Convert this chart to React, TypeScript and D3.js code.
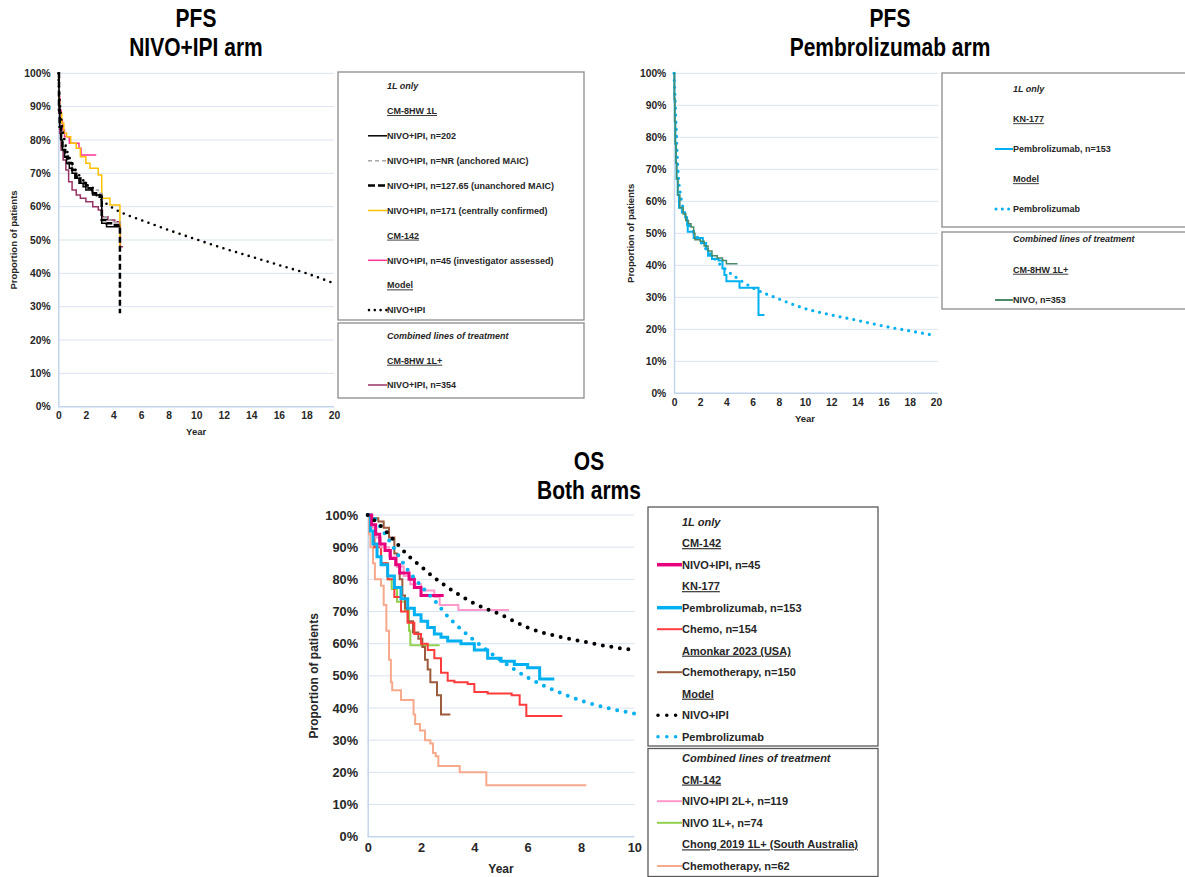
import React, { useEffect, useRef } from 'react';
import * as d3 from 'd3';

type Pt = [number, number];

// ---------- PFS, NIVO+IPI arm (years, % progression-free) ----------
const pfsNivoIpi202: Pt[] = [[0, 100], [0.05, 90], [0.1, 84], [0.2, 80], [0.3, 77], [0.45, 75], [0.6, 73], [0.8, 71.5], [1.0, 70], [1.2, 68.5], [1.5, 67], [1.8, 66], [2.0, 65], [2.5, 63.5], [3.15, 55], [3.5, 54], [4.5, 54]];
const pfsNivoIpiAnchored: Pt[] = [[0, 100], [0.05, 90], [0.1, 85], [0.2, 81], [0.3, 78], [0.5, 75.5], [0.7, 73.5], [1.0, 71], [1.3, 69], [1.6, 67.5], [2.0, 66], [2.5, 65], [2.9, 64], [3.15, 57], [3.5, 56], [4.0, 55.5], [4.5, 55]];
const pfsNivoIpiUnanchored: Pt[] = [[0, 100], [0.05, 89], [0.1, 84], [0.2, 80], [0.3, 77], [0.5, 75], [0.7, 73], [1.0, 71], [1.3, 69], [1.6, 67], [2.0, 65.5], [2.5, 64], [3.0, 63], [3.15, 56], [3.5, 55], [4.0, 54.5], [4.47, 28]];
const pfsNivoIpiCentral: Pt[] = [[0, 100], [0.05, 92], [0.1, 88], [0.25, 85], [0.4, 82], [0.6, 81], [0.9, 79], [1.3, 77.5], [1.6, 75], [2.0, 73], [2.3, 71.5], [2.9, 69.5], [3.15, 62.5], [3.75, 60.5], [4.47, 48], [4.55, 48]];
const pfsCm142Investigator: Pt[] = [[0, 100], [0.05, 93], [0.1, 89], [0.2, 86], [0.3, 83], [0.45, 81], [0.8, 79], [1.5, 77.5], [1.65, 75.5], [2.75, 75.5]];
const pfsNivoIpi354: Pt[] = [[0, 100], [0.05, 88], [0.1, 82], [0.2, 77], [0.35, 74], [0.55, 71], [0.75, 67.5], [1.0, 65], [1.3, 63.5], [1.6, 62.5], [2.0, 61.5], [2.5, 60], [2.9, 59], [3.2, 57], [3.6, 56], [4.1, 55.5], [4.45, 55], [4.5, 48], [4.7, 48]];
const pfsModelNivoIpi: Pt[] = [[0, 100], [0.1, 92], [0.25, 85], [0.5, 79], [1, 73], [1.5, 69.5], [2, 67], [3, 62.5], [4, 59.5], [5, 57.5], [6, 56], [8, 53], [10, 50.2], [12, 47.5], [14, 45], [16, 42.5], [18, 40], [20, 37]];

// ---------- PFS, Pembrolizumab arm ----------
const pfsPembro153: Pt[] = [[0, 100], [0.03, 92], [0.06, 85], [0.1, 78], [0.15, 72], [0.2, 67], [0.28, 62], [0.38, 58], [0.6, 56.5], [0.85, 55], [1.0, 52.5], [1.05, 50.5], [1.4, 50.5], [1.5, 48.5], [2.1, 48.5], [2.2, 47], [2.45, 45], [2.6, 43], [2.9, 42], [3.4, 41.5], [3.7, 39], [3.85, 37], [4.0, 35], [4.8, 35], [5.0, 33], [6.45, 24.5], [6.9, 24.5]];
const pfsNivo353: Pt[] = [[0, 100], [0.03, 92], [0.06, 85], [0.1, 78], [0.15, 72], [0.2, 67], [0.3, 62], [0.45, 58], [0.7, 56], [0.9, 54], [1.1, 53], [1.3, 52], [1.5, 50], [1.6, 48], [2.0, 47.5], [2.3, 46], [2.6, 44.5], [2.9, 43], [3.3, 42.3], [3.7, 41.5], [4.0, 40.5], [4.85, 40.5]];
const pfsModelPembro: Pt[] = [[0, 100], [0.05, 95], [0.1, 90], [0.2, 79], [0.25, 74], [0.35, 67], [0.5, 62], [0.75, 57], [1, 54], [1.5, 50.5], [2, 47.5], [3, 42.5], [4, 38.5], [5, 35.5], [6, 33], [8, 29.5], [10, 26.5], [12, 24.5], [14, 22.8], [16, 21], [18, 19.5], [20, 18]];

// ---------- OS, both arms ----------
const osCm142NivoIpi45: Pt[] = [[0, 100], [0.15, 97], [0.3, 94], [0.45, 91], [0.65, 89], [0.85, 86.5], [1.05, 84.5], [1.2, 82], [1.55, 80], [1.75, 77.5], [2.0, 75], [2.85, 75]];
const osKn177Pembro153: Pt[] = [[0, 100], [0.1, 95], [0.2, 91], [0.35, 87], [0.5, 84.5], [0.75, 81], [1.0, 77.5], [1.25, 74], [1.5, 71], [1.75, 69], [2.0, 67], [2.25, 65], [2.5, 63], [2.75, 62], [3.0, 60.8], [3.5, 60], [4.0, 58], [4.5, 55.5], [5.0, 54.5], [5.5, 53.5], [6.0, 52.5], [6.45, 49], [7.0, 49]];
const osKn177Chemo154: Pt[] = [[0, 100], [0.1, 95], [0.25, 90], [0.5, 85], [0.75, 80], [1.0, 74.5], [1.25, 70], [1.5, 66.5], [1.75, 63], [2.0, 60], [2.25, 58], [2.5, 55.5], [2.75, 51], [3.0, 48.5], [3.25, 48], [3.75, 47.5], [4.0, 45], [4.5, 44.5], [5.4, 44], [5.7, 41], [5.95, 37.5], [7.3, 37.5]];
const osAmonkarChemo150: Pt[] = [[0, 100], [0.15, 99], [0.4, 98], [0.6, 96], [0.8, 93], [1.0, 88], [1.1, 84], [1.2, 80], [1.3, 75], [1.4, 71], [1.5, 67], [1.7, 63.5], [1.9, 61.5], [2.05, 59], [2.15, 55], [2.25, 52], [2.35, 48], [2.6, 44], [2.75, 38], [3.1, 38]];
const osModelNivoIpi: Pt[] = [[0, 100], [0.5, 96.5], [1, 92], [1.5, 87.5], [2, 84], [2.5, 80.5], [3, 77.5], [4, 72.5], [5, 69], [6, 65], [7, 62.5], [8, 60.8], [9, 59.2], [10, 58]];
const osModelPembro: Pt[] = [[0, 100], [0.25, 99], [0.5, 96], [1, 89.5], [1.5, 83], [2, 78], [2.5, 73.5], [3, 68.5], [3.5, 64.5], [4, 61], [5, 54.8], [6, 49.5], [7, 45.5], [8, 42.3], [9, 40], [10, 38.3]];
const osCm142NivoIpi2L119: Pt[] = [[0, 100], [0.15, 96], [0.3, 93], [0.5, 90], [0.8, 87], [1.1, 84], [1.35, 81], [1.6, 78.5], [2.0, 76.5], [2.5, 74.5], [2.7, 72], [3.4, 70.5], [5.3, 70.5]];
const osCm142Nivo1L74: Pt[] = [[0, 100], [0.1, 95], [0.25, 90], [0.5, 85], [0.75, 80], [0.9, 77], [1.1, 73], [1.4, 70.5], [1.55, 64], [1.6, 59.5], [2.7, 59.5]];
const osChongChemo62: Pt[] = [[0, 100], [0.05, 94], [0.1, 90], [0.2, 85], [0.27, 80], [0.5, 78], [0.6, 72], [0.7, 64], [0.8, 55], [0.87, 48], [0.92, 45.5], [1.25, 42.5], [1.72, 38], [1.78, 35], [1.96, 33], [2.15, 30], [2.35, 29], [2.45, 26], [2.55, 25], [2.65, 22], [3.45, 20], [4.45, 16], [8.2, 16]];

const yTicks = d3.range(0, 101, 10);
const xTicks20 = d3.range(0, 21, 2);
const xTicks10 = d3.range(0, 11, 2);

const FONT = "'Liberation Sans', Arial, sans-serif";
const TEXT = '#262626';
const GRID = '#d9e3f1';
const AXIS = '#c3d5ec';

type Series = { data: Pt[]; color: string; width: number; dash?: string; kind: 'step' | 'model' };
type LegendItem = { kind: 'italic' | 'head' | 'line'; text: string; color?: string; width?: number; dash?: string };

const App = () => {
  const ref = useRef<SVGSVGElement | null>(null);

  useEffect(() => {
    const svg = d3.select(ref.current);
    svg.selectAll('*').remove();

    const drawPanel = (p: any) => {
      const x = d3.scaleLinear().domain([0, p.xMax]).range([p.left, p.right]);
      const y = d3.scaleLinear().domain([0, 100]).range([p.bottom, p.top]);
      const g = svg.append('g');

      // gridlines
      g.selectAll('line.grid').data(yTicks.slice(1)).enter().append('line')
        .attr('x1', p.left).attr('x2', p.gridRight)
        .attr('y1', d => y(d)).attr('y2', d => y(d))
        .attr('stroke', GRID).attr('stroke-width', 1);

      const yAxis = g.append('g').attr('transform', `translate(${p.left},0)`)
        .call(d3.axisLeft(y).tickValues(yTicks).tickFormat(d => `${d}%`).tickSize(0).tickPadding(p.fs * 0.75));
      const xAxis = g.append('g').attr('transform', `translate(0,${p.bottom})`)
        .call(d3.axisBottom(x).tickValues(p.xTicks).tickFormat(d3.format('d')).tickSize(0).tickPadding(p.fs * 0.5));
      xAxis.select('.domain').attr('d', `M${p.left},0H${p.gridRight}`);
      [yAxis, xAxis].forEach(a => {
        a.select('.domain').attr('stroke', AXIS).attr('stroke-width', 1.5);
        a.selectAll('text').attr('font-family', FONT).attr('font-size', p.fs).attr('font-weight', 'bold').attr('fill', TEXT);
      });

      g.append('text').attr('x', (p.left + p.right) / 2).attr('y', p.yearY).attr('text-anchor', 'middle')
        .attr('font-family', FONT).attr('font-size', p.titleFs).attr('font-weight', 'bold').attr('fill', TEXT).text('Year');
      g.append('text').attr('transform', `translate(${p.yTitleX},${(p.top + p.bottom) / 2}) rotate(-90)`)
        .attr('text-anchor', 'middle').attr('font-family', FONT).attr('font-size', p.titleFs).attr('font-weight', 'bold')
        .attr('fill', TEXT).text('Proportion of patients');

      (p.series as Series[]).forEach(s => {
        const line = d3.line<Pt>().x(d => x(d[0])).y(d => y(d[1]))
          .curve(s.kind === 'step' ? d3.curveStepAfter : d3.curveMonotoneX);
        g.append('path').datum(s.data).attr('d', line).attr('fill', 'none')
          .attr('stroke', s.color).attr('stroke-width', s.width)
          .attr('stroke-dasharray', s.dash || null)
          .attr('stroke-linecap', s.kind === 'model' ? 'round' : 'butt')
          .attr('stroke-linejoin', 'miter');
      });
    };

    const drawLegend = (b: any, items: LegendItem[]) => {
      const g = svg.append('g');
      g.append('rect').attr('x', b.x).attr('y', b.y).attr('width', b.w).attr('height', b.h)
        .attr('fill', 'white').attr('stroke', b.stroke).attr('stroke-width', 1.3);
      items.forEach((it, i) => {
        const cy = b.first + i * b.step;
        const t = g.append('text').attr('x', b.textX).attr('y', cy + b.fs * 0.36)
          .attr('font-family', FONT).attr('font-size', b.fs).attr('font-weight', 'bold').attr('fill', TEXT).text(it.text);
        if (it.kind === 'italic') t.attr('font-style', 'italic');
        if (it.kind === 'head') t.style('text-decoration', 'underline');
        if (it.kind === 'line') {
          const dotted = it.dash && it.dash.startsWith('0');
          g.append('line').attr('x1', dotted ? b.lineX1 + 1 : b.lineX1).attr('x2', b.lineX2).attr('y1', cy).attr('y2', cy)
            .attr('stroke', it.color!).attr('stroke-width', it.width || 1.5)
            .attr('stroke-dasharray', it.dash || null).attr('stroke-linecap', dotted ? 'round' : 'butt');
        }
      });
    };

    // titles look like a condensed bold face; squeeze Liberation Sans Bold horizontally
    const title = (cx: number, y1: number, l1: string, l2: string) => {
      [l1, l2].forEach((t, i) => svg.append('text')
        .attr('transform', `translate(${cx},${y1 + i * 29}) scale(0.84,1)`).attr('text-anchor', 'middle')
        .attr('font-family', FONT).attr('font-size', 25).attr('font-weight', 'bold').attr('fill', '#000').text(t));
    };

    // ---- panel 1: PFS NIVO+IPI ----
    title(196, 27, 'PFS', 'NIVO+IPI arm');
    drawPanel({
      left: 58.3, right: 334, gridRight: 334, top: 73.3, bottom: 406.7, xMax: 20, xTicks: xTicks20, fs: 10.3, titleFs: 9.5,
      yearY: 435, yTitleX: 17,
      series: [
        { data: pfsNivoIpi354, color: '#993366', width: 1.5, kind: 'step' },
        { data: pfsCm142Investigator, color: '#ff3399', width: 1.5, kind: 'step' },
        { data: pfsNivoIpiCentral, color: '#ffc000', width: 1.5, kind: 'step' },
        { data: pfsNivoIpiAnchored, color: '#a6a6a6', width: 1.5, dash: '4,3', kind: 'step' },
        { data: pfsNivoIpi202, color: '#000000', width: 1.5, kind: 'step' },
        { data: pfsNivoIpiUnanchored, color: '#000000', width: 2.5, dash: '6,3', kind: 'step' },
        { data: pfsModelNivoIpi, color: '#000000', width: 2.6, dash: '0,6.6', kind: 'model' },
      ],
    });
    const leg1 = { x: 338, w: 246, fs: 9, textX: 387, lineX1: 368, lineX2: 387, stroke: '#8c8c8c' };
    drawLegend({ ...leg1, y: 72, h: 248, first: 86, step: 24.9 }, [
      { kind: 'italic', text: '1L only' },
      { kind: 'head', text: 'CM-8HW 1L' },
      { kind: 'line', text: 'NIVO+IPI, n=202', color: '#000', width: 1.5 },
      { kind: 'line', text: 'NIVO+IPI, n=NR (anchored MAIC)', color: '#a6a6a6', width: 1.5, dash: '4,3' },
      { kind: 'line', text: 'NIVO+IPI, n=127.65 (unanchored MAIC)', color: '#000', width: 2.5, dash: '7,3' },
      { kind: 'line', text: 'NIVO+IPI, n=171 (centrally confirmed)', color: '#ffc000', width: 1.5 },
      { kind: 'head', text: 'CM-142' },
      { kind: 'line', text: 'NIVO+IPI, n=45 (investigator assessed)', color: '#ff3399', width: 1.5 },
      { kind: 'head', text: 'Model' },
      { kind: 'line', text: 'NIVO+IPI', color: '#000', width: 2.6, dash: '0,5.8' },
    ]);
    drawLegend({ ...leg1, y: 323, h: 75, first: 336, step: 24.5 }, [
      { kind: 'italic', text: 'Combined lines of treatment' },
      { kind: 'head', text: 'CM-8HW 1L+' },
      { kind: 'line', text: 'NIVO+IPI, n=354', color: '#993366', width: 1.5 },
    ]);

    // ---- panel 2: PFS Pembrolizumab ----
    title(890, 27, 'PFS', 'Pembrolizumab arm');
    drawPanel({
      left: 674, right: 936, gridRight: 938, top: 73.3, bottom: 393.3, xMax: 20, xTicks: xTicks20, fs: 10.3, titleFs: 9.5,
      yearY: 422, yTitleX: 634,
      series: [
        { data: pfsModelPembro, color: '#00b0f0', width: 3.2, dash: '0,7', kind: 'model' },
        { data: pfsPembro153, color: '#00b0f0', width: 2, kind: 'step' },
        { data: pfsNivo353, color: '#4a8a68', width: 1.5, kind: 'step' },
      ],
    });
    const leg2 = { x: 942, w: 260, fs: 9, textX: 1013, lineX1: 995, lineX2: 1013, stroke: '#8c8c8c' };
    drawLegend({ ...leg2, y: 73, h: 154, first: 89, step: 30 }, [
      { kind: 'italic', text: '1L only' },
      { kind: 'head', text: 'KN-177' },
      { kind: 'line', text: 'Pembrolizumab, n=153', color: '#00b0f0', width: 2 },
      { kind: 'head', text: 'Model' },
      { kind: 'line', text: 'Pembrolizumab', color: '#00b0f0', width: 3, dash: '0,6.3' },
    ]);
    drawLegend({ ...leg2, y: 232, h: 77, first: 239, step: 30.5 }, [
      { kind: 'italic', text: 'Combined lines of treatment' },
      { kind: 'head', text: 'CM-8HW 1L+' },
      { kind: 'line', text: 'NIVO, n=353', color: '#4a8a68', width: 2 },
    ]);

    // ---- panel 3: OS both arms ----
    title(589, 470, 'OS', 'Both arms');
    drawPanel({
      left: 367.7, right: 634.3, gridRight: 634.3, top: 515, bottom: 836.7, xMax: 10, xTicks: xTicks10, fs: 12.8, titleFs: 12,
      yearY: 873, yTitleX: 318,
      series: [
        { data: osChongChemo62, color: '#f7a98c', width: 2, kind: 'step' },
        { data: osCm142Nivo1L74, color: '#92d050', width: 2, kind: 'step' },
        { data: osAmonkarChemo150, color: '#9c5b3c', width: 2, kind: 'step' },
        { data: osKn177Chemo154, color: '#ff3b3b', width: 2, kind: 'step' },
        { data: osCm142NivoIpi2L119, color: '#ff99cc', width: 2, kind: 'step' },
        { data: osKn177Pembro153, color: '#00b0f0', width: 3, kind: 'step' },
        { data: osCm142NivoIpi45, color: '#e6007e', width: 3, kind: 'step' },
        { data: osModelPembro, color: '#00b0f0', width: 4, dash: '0,8.6', kind: 'model' },
        { data: osModelNivoIpi, color: '#000000', width: 4, dash: '0,8.6', kind: 'model' },
      ],
    });
    const leg3 = { x: 648, w: 230, fs: 11, textX: 682, lineX1: 657, lineX2: 682, stroke: '#595959' };
    drawLegend({ ...leg3, y: 507, h: 239, first: 521.7, step: 21.5 }, [
      { kind: 'italic', text: '1L only' },
      { kind: 'head', text: 'CM-142' },
      { kind: 'line', text: 'NIVO+IPI, n=45', color: '#e6007e', width: 3.5 },
      { kind: 'head', text: 'KN-177' },
      { kind: 'line', text: 'Pembrolizumab, n=153', color: '#00b0f0', width: 3.5 },
      { kind: 'line', text: 'Chemo, n=154', color: '#ff3b3b', width: 2 },
      { kind: 'head', text: 'Amonkar 2023 (USA)' },
      { kind: 'line', text: 'Chemotherapy, n=150', color: '#9c5b3c', width: 2 },
      { kind: 'head', text: 'Model' },
      { kind: 'line', text: 'NIVO+IPI', color: '#000', width: 3.6, dash: '0,8.8' },
      { kind: 'line', text: 'Pembrolizumab', color: '#00b0f0', width: 3.6, dash: '0,8.8' },
    ]);
    drawLegend({ ...leg3, y: 748.5, h: 128, first: 758, step: 21.6 }, [
      { kind: 'italic', text: 'Combined lines of treatment' },
      { kind: 'head', text: 'CM-142' },
      { kind: 'line', text: 'NIVO+IPI 2L+, n=119', color: '#ff99cc', width: 2 },
      { kind: 'line', text: 'NIVO 1L+, n=74', color: '#92d050', width: 2 },
      { kind: 'head', text: 'Chong 2019 1L+ (South Australia)' },
      { kind: 'line', text: 'Chemotherapy, n=62', color: '#f7a98c', width: 2 },
    ]);
  }, []);

  return (
    <div style={{ position: 'absolute', left: 0, top: 0, width: 1185, height: 877, background: '#fff', overflow: 'hidden' }}>
      <svg ref={ref} width={1185} height={877} />
    </div>
  );
};

export default App;
